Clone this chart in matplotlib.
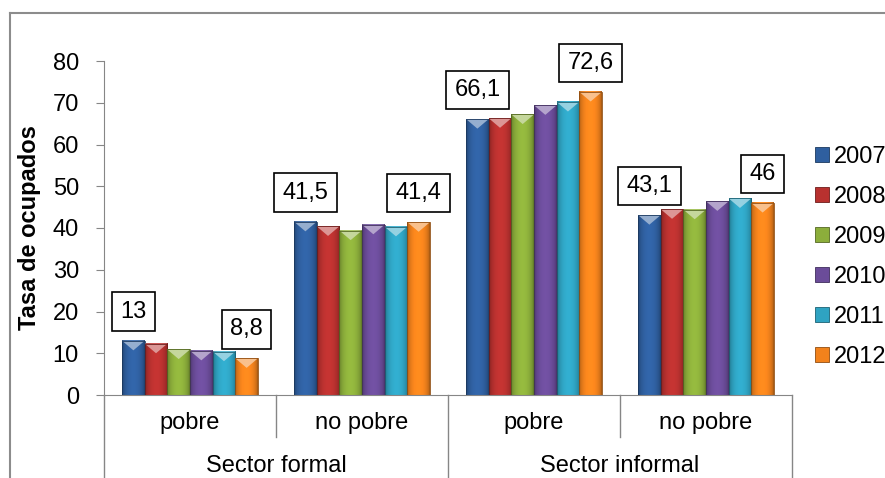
import numpy as np
import matplotlib.pyplot as plt
from matplotlib.colors import to_rgb
from matplotlib.patches import Polygon, Patch
from matplotlib.lines import Line2D
import matplotlib.transforms as mtrans

plt.rcParams['font.family'] = ['Liberation Sans', 'DejaVu Sans']

# datos: tasa de ocupados por sector y condicion de pobreza
years = ['2007', '2008', '2009', '2010', '2011', '2012']
categorias = ['pobre', 'no pobre', 'pobre', 'no pobre']
sectores = ['Sector formal', 'Sector informal']
formal_pobre = [13.0, 12.3, 10.9, 10.6, 10.4, 8.8]
formal_no_pobre = [41.5, 40.4, 39.4, 40.8, 40.3, 41.4]
informal_pobre = [66.1, 66.3, 67.2, 69.4, 70.2, 72.6]
informal_no_pobre = [43.1, 44.5, 44.4, 46.4, 47.1, 46.0]
colores = ['#2f5f9f', '#b8312f', '#8cae3b', '#6b4c99', '#2fa3c2', '#f2821c']

valores = np.array([formal_pobre, formal_no_pobre, informal_pobre, informal_no_pobre])

fig = plt.figure(figsize=(8.85, 4.78), dpi=100)
ax = fig.add_axes([104 / 885, 83 / 478, 688 / 885, 334 / 478])

n = len(years)
ancho = 0.79 / n
x = np.arange(len(categorias))
gris = '#868686'
fs = 17


def sombrear(ax, barra, color):
    # degradado horizontal y bisel superior estilo Excel
    x0, w, h = barra.get_x(), barra.get_width(), barra.get_height()
    rgb = np.array(to_rgb(color))
    t = np.linspace(0, 1, 40)
    perfil = 0.66 + 0.42 * np.sin(np.pi * t) ** 0.5
    img = np.clip(rgb[None, None, :] * perfil[None, :, None], 0, 1)
    ax.imshow(img, extent=(x0, x0 + w, 0, h), aspect='auto',
              interpolation='bilinear', zorder=2)
    claro = rgb * 0.45 + 0.55
    dh = 2.3
    ax.add_patch(Polygon([(x0, h), (x0 + w, h), (x0 + w / 2, h - dh)],
                         closed=True, facecolor=claro, edgecolor='none',
                         zorder=3, alpha=0.9))
    ax.add_patch(plt.Rectangle((x0, 0), w, h, facecolor='none',
                               edgecolor=rgb * 0.6, lw=0.6, zorder=3))


for i, (yr, c) in enumerate(zip(years, colores)):
    pos = x - 0.395 + ancho * (i + 0.5)
    barras = ax.bar(pos, valores[:, i], width=ancho, color=c, zorder=1)
    for b in barras:
        sombrear(ax, b, c)

# etiquetas de valor (primer y ultimo anio de cada grupo)
for j in range(len(categorias)):
    for i in (0, n - 1):
        v = valores[j, i]
        xc = x[j] - 0.395 + ancho * (i + 0.5)
        txt = f'{v:g}'.replace('.', ',')
        ax.annotate(txt, xy=(xc, v), xytext=(0, 29), textcoords='offset pixels',
                    ha='center', va='center', fontsize=fs, zorder=5,
                    bbox=dict(boxstyle='square,pad=0.35', fc='white', ec='black', lw=1.2))

ax.set_xlim(-0.5, len(categorias) - 0.5)
ax.set_ylim(0, 80)
ax.set_yticks(np.arange(0, 81, 10))
ax.tick_params(axis='y', direction='out', length=6, color=gris, labelsize=fs, pad=12)
ax.set_xticks([])
for s in ('top', 'right'):
    ax.spines[s].set_visible(False)
for s in ('left', 'bottom'):
    ax.spines[s].set_color(gris)
ax.set_ylabel('Tasa de ocupados', fontsize=fs, fontweight='bold')
ax.yaxis.set_label_coords(-0.091, 0.5)

# caja de categorias bajo el eje
tr = mtrans.blended_transform_factory(ax.transData, ax.transAxes)
for xv in (-0.5, 1.5, 3.5):
    ax.add_line(Line2D([xv, xv], [0, -0.26], transform=tr, color=gris, lw=1, clip_on=False))
for xv in (0.5, 2.5):
    ax.add_line(Line2D([xv, xv], [0, -0.126], transform=tr, color=gris, lw=1, clip_on=False))
for j, cat in enumerate(categorias):
    ax.text(x[j], -0.084, cat, transform=tr, ha='center', va='center', fontsize=fs)
for k, sec in enumerate(sectores):
    ax.text(2 * k + 0.5, -0.213, sec, transform=tr, ha='center', va='center', fontsize=fs)

# leyenda
handles = [Patch(facecolor=c, edgecolor=np.array(to_rgb(c)) * 0.6, lw=0.6) for c in colores]
fig.legend(handles, years, loc='upper left', bbox_to_anchor=(815 / 885, 1 - 146 / 478),
           frameon=False, fontsize=fs, handlelength=0.6, handleheight=0.6,
           handletextpad=0.2, labelspacing=0.76, borderaxespad=0, borderpad=0)

# marco del grafico
fig.add_artist(Line2D([10 / 885, 1], [1 - 13 / 478, 1 - 13 / 478], color='#8c8c8c', lw=1.5,
                      transform=fig.transFigure))
fig.add_artist(Line2D([10 / 885, 10 / 885], [0, 1 - 13 / 478], color='#8c8c8c', lw=1.5,
                      transform=fig.transFigure))

fig.savefig('out.png', dpi=100)
